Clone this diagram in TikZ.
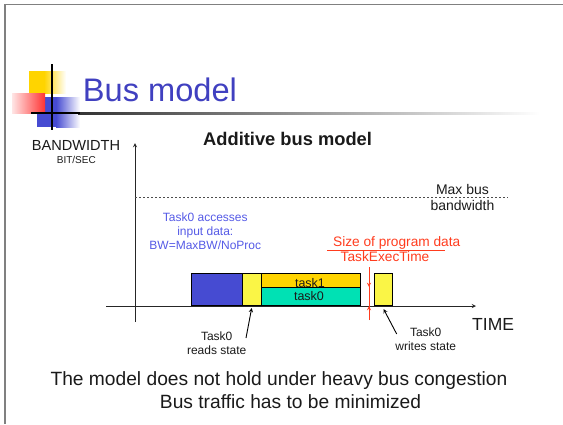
\documentclass[tikz,border=0pt]{standalone}
\usepackage{fontspec}
\setmainfont{Liberation Sans}
\usepackage{tikz}
\usetikzlibrary{positioning}
\usetikzlibrary{arrows, calc}
\tikzstyle{arrow} = [thin,->,>=stealth]

\definecolor{titleblue}{RGB}{64,64,192}
\definecolor{inkgray}{RGB}{26,26,26}
\definecolor{inblue}{RGB}{70,75,210}
\definecolor{stateyellow}{RGB}{250,245,70}
\definecolor{taskgold}{RGB}{255,212,0}
\definecolor{taskteal}{RGB}{0,225,180}
\definecolor{accblue}{RGB}{85,90,230}
\definecolor{sizered}{RGB}{255,60,30}

\begin{document}
\begin{tikzpicture}[
    x = 1pt, y = -1pt,
    every node/.style = {inner sep = 0pt, text = inkgray},
    bar/.style = {draw = black, line width = 0.8pt, minimum height = 32.7pt, anchor = south west},
    small/.style = {font = \fontsize{12}{14}\selectfont, align = center, anchor = base},
    mid/.style = {font = \fontsize{13.7}{16}\selectfont, align = center, anchor = base},
    big/.style = {font = \fontsize{19.2}{22}\selectfont, anchor = base}
  ]
  \useasboundingbox (0,0) rectangle (563,424);

  % slide frame and logo
  \draw[gray, line width = 1.3pt] (5,424) -- (5,4.6) -- (563,4.6);
  \fill[taskgold] (29,71) rectangle (44,93);
  \shade[left color = taskgold, right color = white] (44,71) rectangle (66,93);
  \fill[inblue] (37,97) rectangle (56,127);
  \shade[left color = inblue, right color = white] (56,97) rectangle (80,127);
  \shade[left color = red!10, right color = red!80] (12,93) rectangle (45,113);
  \shade[left color = black!80, middle color = black!45, right color = white] (78,112.2) rectangle (540,114.2);
  \draw[black, line width = 1.2pt] (52,64) -- (52,130);
  \draw[black, line width = 1.2pt] (31,113) -- (80,113);

  % titles
  \node[anchor = base west, text = titleblue, font = \fontsize{32.6}{36}\selectfont] (title) at (82.7,101.7) {Bus model};
  \node[anchor = base west, font = \bfseries\fontsize{18.3}{20}\selectfont] (subtitle) at (203,145.5) {Additive bus model};

  % axes
  \coordinate (yaxbot) at (135,322);
  \coordinate (yaxtop) at (135,143);
  \coordinate (xaxl) at (106,306);
  \coordinate (xaxr) at (476,306);
  \coordinate (maxl) at (135,197.5);
  \coordinate (maxr) at (508,197.5);
  \draw[arrow, black!85, line width = 0.9pt] (yaxbot) -- (yaxtop);
  \draw[arrow, black!85, line width = 0.9pt] (xaxl) -- (xaxr);
  \draw[black!70, line width = 0.9pt, dash pattern = on 2pt off 2pt] (maxl) -- (maxr);

  \node[anchor = base, font = \fontsize{14.6}{16}\selectfont] (bw) at (76,150) {BANDWIDTH};
  \node[anchor = base, font = \fontsize{10}{12}\selectfont] (bitsec) at (76.3,163.7) {BIT/SEC};
  \node[anchor = base west, font = \fontsize{17.5}{20}\selectfont] (timelbl) at (472,330) {TIME};
  \node[mid, font = \fontsize{14}{16}\selectfont] (maxbus) at (462.5,210) {Max bus\\bandwidth};

  % bus usage
  \node[bar, fill = inblue, minimum width = 51.2pt] (inrd) at (190.5,306) {};
  \node[bar, fill = stateyellow, minimum width = 19.2pt] (rdst) at (241.7,306) {};
  \node[bar, fill = taskteal, minimum width = 98.6pt, minimum height = 18.3pt] (task0) at (260.9,306) {};
  \node[bar, fill = taskgold, minimum width = 98.6pt, minimum height = 14.4pt] (task1) at (260.9,287.7) {};
  \node[bar, fill = stateyellow, minimum width = 18.3pt] (wrst) at (374,306) {};
  \node[small, font = \fontsize{12.5}{14}\selectfont] (t1lbl) at (310,287.3) {task1};
  \node[small, font = \fontsize{12.5}{14}\selectfont] (t0lbl) at (309,300) {task0};

  % notes
  \node[small, text = accblue] (access) at (205.3,249) {Task0 accesses\\input data:\\BW=MaxBW/NoProc};
  \node[mid, text = sizered] (sizedata) at (396.7,246) {Size of program data};
  \node[mid, text = sizered] (exectime) at (385,261.7) {TaskExecTime};
  \coordinate (fracl) at (327,250);
  \coordinate (fracr) at (445,250);
  \draw[sizered, line width = 0.9pt] (fracl) -- (fracr);

  \coordinate (dimtop) at (369,267);
  \coordinate (dimbot) at (369,320);
  \draw[sizered, line width = 0.9pt] (dimtop) -- (dimbot);
  \draw[arrow, sizered, line width = 0.9pt] (dimtop) -- (dimtop |- task0.north);
  \draw[arrow, sizered, line width = 0.9pt] (dimbot) -- (dimbot |- task0.south);

  \node[small] (readlbl) at (216.7,354.3) {Task0\\reads state};
  \node[small] (writelbl) at (425.7,350) {Task0\\writes state};
  \coordinate (rdtail) at (246,338);
  \coordinate (wrtail) at (396.7,334);
  \draw[arrow, black, line width = 0.9pt] (rdtail) -- ([yshift = -2pt]rdst.south);
  \draw[arrow, black, line width = 0.9pt] (wrtail) -- ([yshift = -3pt]wrst.south);

  \node[big] (concl1) at (279,385.7) {The model does not hold under heavy bus congestion};
  \node[big] (concl2) at (290.5,408.3) {Bus traffic has to be minimized};
\end{tikzpicture}
\end{document}
